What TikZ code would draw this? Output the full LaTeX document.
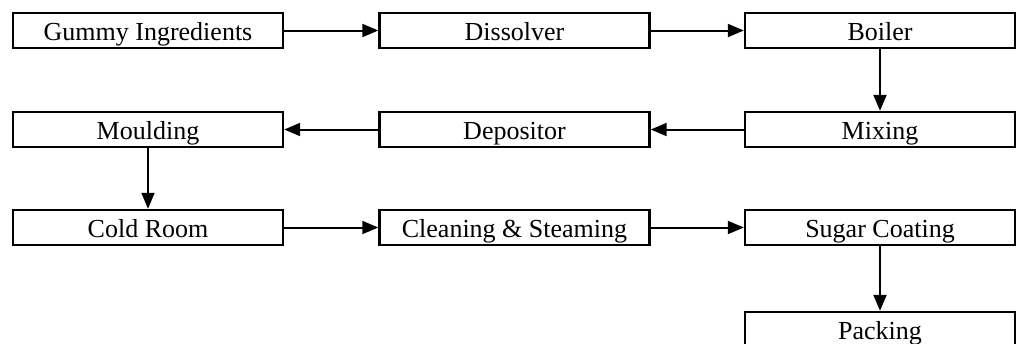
\documentclass[tikz,border=0pt]{standalone}
\usepackage{fontspec}
\setmainfont{Liberation Serif}
\usetikzlibrary{arrows.meta,positioning}

\begin{document}
\begin{tikzpicture}[x=0.5pt, y=-0.5pt,
    stage/.style={draw, line width=1.2pt, minimum width=135pt, minimum height=17.5pt,
      inner sep=0pt, text height=12pt, text depth=2.5pt,
      font=\fontsize{13}{15}\selectfont},
    flow/.style={line width=1pt, -{Triangle[length=8pt, width=6.5pt]}}]
  \clip (0,0) rectangle (1016,343);

  % Row 1
  \node[stage] (gummy) at (148,30.5) {Gummy Ingredients};
  \node[stage] (dissolve) at (514.5,30.5) {Dissolver};
  \node[stage] (boil) at (880,30.5) {Boiler};

  % Row 2
  \node[stage] (mould) at (148,129.5) {Moulding};
  \node[stage] (deposit) at (514.5,129.5) {Depositor};
  \node[stage] (mix) at (880,129.5) {Mixing};

  % Row 3
  \node[stage] (cold) at (148,227.5) {Cold Room};
  \node[stage] (clean) at (514.5,227.5) {Cleaning \& Steaming};
  \node[stage] (coat) at (880,227.5) {Sugar Coating};

  % Row 4
  \node[stage] (pack) at (880,329.5) {Packing};

  % Connectors
  \draw[flow] (gummy) -- (dissolve);
  \draw[flow] (dissolve) -- (boil);
  \draw[flow] (boil) -- (mix);
  \draw[flow] (mix) -- (deposit);
  \draw[flow] (deposit) -- (mould);
  \draw[flow] (mould) -- (cold);
  \draw[flow] (cold) -- (clean);
  \draw[flow] (clean) -- (coat);
  \draw[flow] (coat) -- (pack);
\end{tikzpicture}
\end{document}
